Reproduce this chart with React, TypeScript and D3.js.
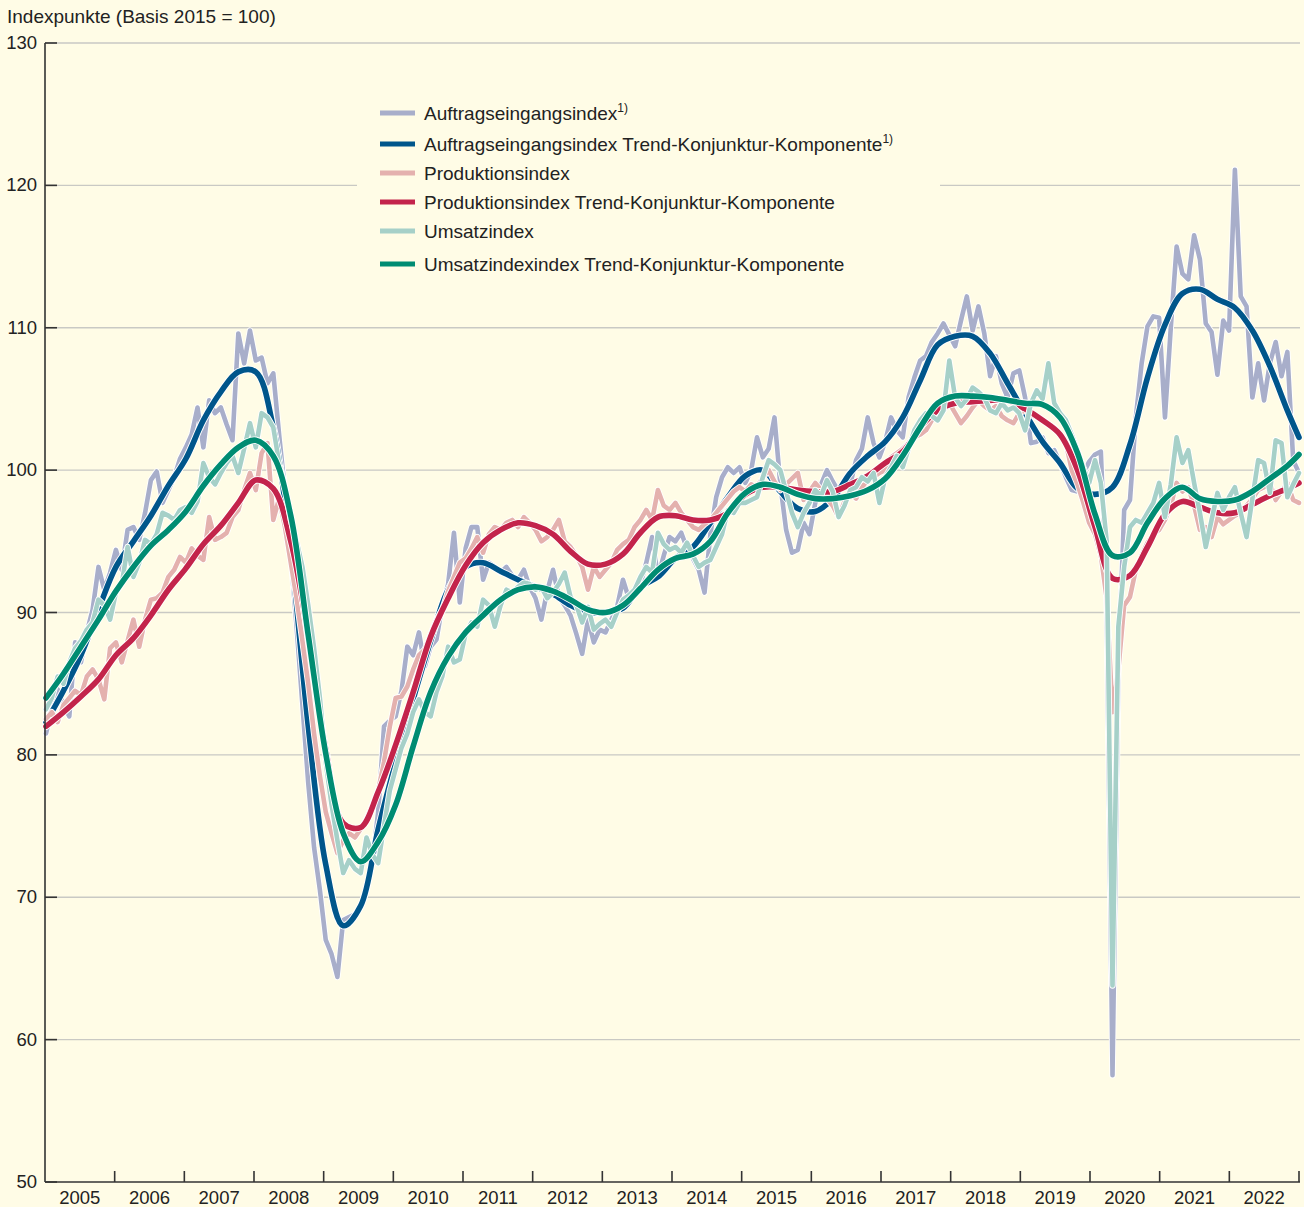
import React from "react";
import * as d3 from "d3";

const WIDTH = 1304;
const HEIGHT = 1207;
const FONT = '"Liberation Sans", Arial, Helvetica, sans-serif';

const yearLabels = [
  "2005", "2006", "2007", "2008", "2009", "2010", "2011", "2012", "2013",
  "2014", "2015", "2016", "2017", "2018", "2019", "2020", "2021", "2022",
];
const yTicks = [50, 60, 70, 80, 90, 100, 110, 120, 130];

// monthly values, Jan 2005 - Dec 2022
const auftragRaw = [
  81.5, 83.2, 84.6, 83.5, 82.7, 87.9, 86.5, 88.6, 90.2, 93.2, 91.6, 92.8,
  94.4, 93.0, 95.8, 96.0, 95.1, 97.0, 99.3, 99.9, 97.7, 98.6, 99.5, 100.8,
  101.6, 102.5, 104.4, 101.6, 104.9, 104.0, 104.4, 103.2, 102.1, 109.6, 107.5, 109.8,
  107.7, 107.9, 106.1, 106.8, 102.5, 98.5, 94.0, 89.0, 83.5, 78.0, 73.5, 70.5,
  67.0, 66.0, 64.4, 68.4, 68.6, 68.8, 69.3, 70.5, 72.5, 76.0, 82.0, 82.4,
  82.7, 84.5, 87.6, 87.0, 88.6, 86.2, 87.6, 88.1, 90.5, 92.0, 95.6, 90.7,
  94.5, 96.0, 96.0, 92.3, 93.5, 93.2, 92.8, 93.2, 92.6, 92.3, 93.0, 91.8,
  91.0, 89.5, 91.5, 93.0, 91.1, 90.5, 89.8, 88.5, 87.1, 89.5, 87.9, 88.8,
  88.6, 89.5, 90.4, 92.3, 91.0, 91.4, 92.0, 93.5, 95.3, 92.5, 94.0, 95.3,
  95.0, 95.6, 94.5, 93.8, 93.0, 91.4, 95.5, 98.1, 99.5, 100.2, 99.8, 100.2,
  99.1, 100.0, 102.3, 100.9, 101.5, 103.7, 99.0, 95.8, 94.2, 94.4, 96.3, 95.5,
  97.7, 99.0, 100.0, 99.2, 98.5, 99.3, 99.0, 100.7, 101.5, 103.7, 101.9, 100.9,
  102.0, 103.7, 102.8, 102.3, 105.1, 106.5, 107.7, 108.0, 109.0, 109.6, 110.3, 109.5,
  108.7, 110.5, 112.2, 109.8, 111.5, 109.6, 106.6, 108.0, 106.1, 105.1, 106.8, 107.0,
  105.1, 101.9, 102.0, 102.3, 101.2, 101.4, 100.5, 99.5, 98.6, 98.5, 99.8, 100.6,
  101.1, 101.3, 91.0, 57.5, 86.0, 97.2, 97.9, 103.7, 107.5, 110.1, 110.8, 110.7,
  103.7, 110.0, 115.7, 113.8, 113.4, 116.5, 114.8, 110.3, 109.7, 106.7, 110.5, 109.8,
  121.1, 112.2, 111.5, 105.1, 107.5, 104.9, 107.5, 109.0, 106.6, 108.3, 100.7, 99.8,
];

const produktionRaw = [
  82.5, 83.0, 82.3, 83.5, 84.0, 84.5, 84.2, 85.5, 86.0, 85.3, 83.9, 87.5,
  87.9, 86.5, 88.0, 89.5, 87.6, 89.5, 90.9, 91.0, 91.4, 92.5, 93.0, 93.9,
  93.5, 94.5, 94.0, 93.7, 96.7, 95.1, 95.3, 95.6, 96.7, 97.2, 98.6, 99.8,
  98.6, 101.2, 101.9, 96.5, 98.0, 96.0, 93.5, 91.0, 88.0, 85.0, 81.5, 78.5,
  76.0, 74.5, 73.1, 74.0, 74.5, 74.2, 74.8, 75.5, 76.5, 77.5, 79.5, 82.0,
  84.0, 84.1, 84.8, 86.0, 87.0, 87.4, 88.5, 89.5, 90.2, 91.5, 92.5, 93.5,
  93.8, 94.5, 95.3, 94.2, 95.5, 96.0, 95.8, 96.3, 96.5, 96.0, 96.7, 96.3,
  95.8, 95.0, 95.3, 95.8, 96.5, 95.0, 94.6, 94.0, 93.2, 91.6, 93.2, 92.5,
  93.0, 93.5, 94.4, 94.8, 95.1, 96.0, 96.5, 97.2, 96.5, 98.6, 97.5, 97.2,
  97.7, 97.0, 96.5, 96.0, 95.8, 96.2, 96.5, 97.0, 97.5, 98.0, 98.5, 98.8,
  98.5, 99.0, 98.8, 99.5, 100.0, 99.2, 98.6, 99.0, 99.4, 99.8, 97.9, 98.5,
  99.1, 98.6, 98.0, 97.5, 96.7, 97.8, 98.4, 98.0, 98.8, 99.3, 99.5, 99.8,
  100.0, 100.9, 101.2, 101.5, 101.9, 102.3, 102.5, 102.8, 103.5, 104.4, 104.2, 104.7,
  104.0, 103.3, 103.8, 104.4, 104.9, 104.5, 104.2, 104.5, 103.8, 103.5, 103.3, 104.0,
  104.2, 103.9, 103.7, 103.5, 103.2, 103.0, 102.5, 101.9, 100.0, 99.0, 97.7, 96.3,
  95.5, 94.0, 91.0, 83.0, 86.0, 90.5, 91.1, 93.0, 94.0, 94.9, 95.5, 95.8,
  96.5, 97.5, 99.1, 98.5, 98.8, 97.5, 95.8, 96.0, 95.3, 96.7, 96.2, 96.5,
  96.8, 97.0, 97.5, 98.0, 98.6, 98.8, 99.1, 97.9, 98.5, 99.1, 97.9, 97.7,
];

const umsatzRaw = [
  83.2, 84.0, 85.5, 85.0, 86.5, 87.5, 88.0, 88.8, 89.3, 90.9, 90.5, 89.5,
  91.4, 92.0, 94.6, 92.5, 93.5, 95.1, 94.8, 95.5, 97.0, 96.8, 96.5, 97.2,
  97.4, 97.0, 97.8, 100.5, 99.5, 99.0, 99.8, 100.5, 101.0, 99.8, 101.5, 103.3,
  101.6, 104.0, 103.7, 103.0, 100.5, 98.8, 96.5, 95.0, 93.2, 90.5, 87.5, 84.0,
  79.5, 76.5, 74.0, 71.7, 72.6, 72.0, 71.7, 74.2, 73.0, 72.4, 75.0, 77.5,
  79.0, 80.5, 81.5, 83.0, 83.9, 83.0, 82.7, 84.4, 85.5, 87.6, 86.5, 86.7,
  88.5, 89.3, 89.0, 90.9, 90.5, 89.0, 90.5, 91.6, 91.4, 91.8, 92.1, 92.0,
  91.6, 91.8, 91.0, 91.4, 92.0, 92.8, 91.1, 90.5, 89.3, 90.4, 88.8, 89.2,
  89.5, 89.0, 90.0, 90.9, 91.2, 91.6, 92.5, 93.2, 92.8, 95.6, 94.8, 94.4,
  94.6, 94.2, 94.9, 94.0, 93.2, 93.5, 93.7, 94.6, 95.5, 97.2, 97.0, 97.7,
  97.7, 97.9, 98.1, 99.5, 100.7, 100.4, 100.0, 98.5, 97.0, 96.0, 97.0, 97.7,
  98.6, 98.2, 99.3, 98.5, 96.7, 97.5, 98.6, 98.8, 99.5, 99.2, 99.8, 97.7,
  99.5, 100.2, 101.0, 100.2, 101.5, 102.8, 103.5, 104.0, 103.8, 103.5, 104.2, 107.7,
  105.1, 104.5, 105.0, 105.8, 105.5, 105.1, 104.2, 104.0, 104.7, 104.2, 104.4, 104.0,
  102.8, 104.7, 105.6, 105.0, 107.5, 104.7, 104.0, 103.5, 102.5, 101.4, 100.2, 99.1,
  100.7, 99.1, 95.0, 63.8, 89.0, 93.2, 96.0, 96.5, 96.3, 97.0, 97.7, 99.1,
  96.7, 99.0, 102.3, 100.5, 101.4, 99.1, 97.0, 94.6, 96.5, 98.4, 97.2, 98.1,
  98.8, 97.0, 95.3, 98.0, 100.7, 100.5, 98.4, 102.1, 101.9, 98.1, 99.0, 99.8,
];

// trend-cycle components, one value per quarter (month 0, 3, ... 213) plus Dec 2022
const trendMonths = [...d3.range(0, 216, 3), 215];

const auftragTrend = [
  82.3, 84.5, 87.0, 90.2, 93.2, 95.0, 96.8, 98.9, 100.8, 103.5, 105.5, 106.9,
  106.9, 103.0, 94.4, 82.0, 72.3, 68.0, 69.4, 74.8, 79.5, 83.9, 88.0, 91.6,
  93.2, 93.5, 92.9, 92.3, 91.8, 91.3, 90.5, 90.0, 90.0, 90.3, 91.8, 92.5,
  93.8, 94.6, 96.3, 98.1, 99.6, 100.0, 98.5, 97.3, 97.1, 98.0, 99.8, 101.0,
  102.0, 103.7, 106.3, 108.8, 109.4, 109.4, 108.2, 106.1, 104.0, 102.0, 100.5, 98.7,
  98.3, 98.8, 101.8, 106.5, 110.2, 112.4, 112.7, 112.0, 111.4, 109.8, 107.3, 104.2,
  102.3,
];

const produktionTrend = [
  82.0, 83.0, 84.1, 85.3, 87.0, 88.2, 89.8, 91.6, 93.1, 94.8, 96.1, 97.7,
  99.3, 98.7, 95.0, 88.4, 80.4, 75.2, 74.9, 77.4, 80.7, 84.4, 88.3, 91.0,
  93.3, 94.9, 95.8, 96.3, 96.1, 95.5, 94.3, 93.4, 93.4, 94.1, 95.6, 96.7,
  96.8, 96.5, 96.5, 97.0, 98.3, 98.8, 98.8, 98.6, 98.5, 98.5, 99.0, 99.6,
  100.5, 101.3, 103.0, 104.2, 104.7, 104.8, 104.9, 104.9, 104.3, 103.5, 102.5, 100.0,
  96.0, 92.4, 92.6, 94.6, 96.9, 97.8, 97.4, 97.0, 97.0, 97.6, 98.2, 98.7,
  99.1,
];

const umsatzTrend = [
  84.0, 85.7, 87.6, 89.5, 91.5, 93.2, 94.7, 95.8, 97.1, 98.9, 100.4, 101.6,
  102.1, 101.0, 96.8, 88.4, 80.1, 74.5, 72.5, 73.9, 76.5, 80.6, 84.4, 86.9,
  88.6, 89.8, 90.9, 91.6, 91.8, 91.5, 90.9, 90.2, 90.0, 90.5, 91.7, 93.0,
  93.8, 94.1, 95.0, 97.0, 98.4, 99.0, 98.8, 98.3, 98.0, 98.0, 98.2, 98.6,
  99.4, 101.0, 103.0, 104.7, 105.2, 105.2, 105.1, 104.9, 104.7, 104.6, 103.7, 101.2,
  96.9, 94.0, 94.2, 96.3, 98.0, 98.8, 98.0, 97.8, 97.9, 98.5, 99.4, 100.3,
  101.1,
];

const legendItems = [
  { label: "Auftragseingangsindex", note: true, color: "#a8aeca" },
  { label: "Auftragseingangsindex Trend-Konjunktur-Komponente", note: true, color: "#00568b" },
  { label: "Produktionsindex", note: false, color: "#e4b1ae" },
  { label: "Produktionsindex Trend-Konjunktur-Komponente", note: false, color: "#c3244b" },
  { label: "Umsatzindex", note: false, color: "#a6d0c8" },
  { label: "Umsatzindexindex Trend-Konjunktur-Komponente", note: false, color: "#008c72" },
];
const legendRows = [113, 144, 173, 202, 231, 264];

const BG = "#fffce6";

export default function App() {
  const x = d3.scaleLinear().domain([0, 215]).range([46, 1299]);
  const y = d3.scaleLinear().domain([50, 130]).range([1182, 43]);
  const xYear = d3.scaleLinear().domain([0, yearLabels.length]).range([45, 1299]);

  const rawLine = d3
    .line<number>()
    .x((_d, i) => x(i))
    .y((d) => y(d));

  const trendLine = d3
    .line<number>()
    .x((_d, i) => x(trendMonths[i]))
    .y((d) => y(d))
    .curve(d3.curveCatmullRom.alpha(0.5));

  // drawing order: each raw series, then its trend
  const series = [
    { path: rawLine(auftragRaw), color: legendItems[0].color, width: 4.6 },
    { path: trendLine(auftragTrend), color: legendItems[1].color, width: 5.6 },
    { path: rawLine(produktionRaw), color: legendItems[2].color, width: 4.6 },
    { path: trendLine(produktionTrend), color: legendItems[3].color, width: 5.6 },
    { path: rawLine(umsatzRaw), color: legendItems[4].color, width: 4.6 },
    { path: trendLine(umsatzTrend), color: legendItems[5].color, width: 5.6 },
  ];

  const left = 45;
  const right = 1300;
  const bottom = y(50);

  return (
    <svg
      width={WIDTH}
      height={HEIGHT}
      style={{ position: "absolute", left: 0, top: 0, display: "block" }}
      fontFamily={FONT}
    >
      <rect x={0} y={0} width={WIDTH} height={HEIGHT} fill={BG} />

      <text x={7} y={23} fontSize={19} fill="#222">
        Indexpunkte (Basis 2015 = 100)
      </text>

      {/* grid lines */}
      {yTicks.filter((t) => t > 50).map((t) => (
        <line key={"g" + t} x1={left} x2={right} y1={y(t)} y2={y(t)} stroke="#c9c9c4" strokeWidth={1.4} />
      ))}

      {/* legend box hides the grid */}
      <rect x={357} y={92} width={583} height={192} fill={BG} />

      {/* series */}
      {series.map((s, i) => (
        <g key={"s" + i}>
          <path d={s.path || ""} fill="none" stroke="#ffffff" strokeWidth={s.width + 1.8}
            strokeLinejoin="round" strokeLinecap="round" />
          <path d={s.path || ""} fill="none" stroke={s.color} strokeWidth={s.width}
            strokeLinejoin="round" strokeLinecap="round" />
        </g>
      ))}

      {/* y axis */}
      <line x1={left} x2={left} y1={y(130)} y2={bottom} stroke="#333" strokeWidth={1.6} />
      {yTicks.map((t) => (
        <g key={"y" + t}>
          <line x1={left} x2={left + 12} y1={y(t)} y2={y(t)} stroke="#333" strokeWidth={1.6} />
          <text x={37} y={y(t) + 6} fontSize={18.5} fill="#222" textAnchor="end">
            {t}
          </text>
        </g>
      ))}

      {/* x axis */}
      <line x1={left} x2={right} y1={bottom} y2={bottom} stroke="#333" strokeWidth={1.6} />
      {d3.range(1, yearLabels.length + 1).map((k) => (
        <line key={"xt" + k} x1={xYear(k)} x2={xYear(k)} y1={bottom} y2={bottom - 11} stroke="#333" strokeWidth={1.6} />
      ))}
      {yearLabels.map((lab, k) => (
        <text key={"xl" + k} x={(xYear(k) + xYear(k + 1)) / 2} y={1204} fontSize={18.5} fill="#222" textAnchor="middle">
          {lab}
        </text>
      ))}

      {/* legend */}
      {legendItems.map((it, i) => (
        <g key={"l" + i}>
          <line x1={380} x2={415} y1={legendRows[i]} y2={legendRows[i]} stroke={it.color} strokeWidth={5} />
          <text x={424} y={legendRows[i] + 6.5} fontSize={19} fill="#222">
            {it.label}
            {it.note && (
              <tspan fontSize={12} dy={-8}>
                1)
              </tspan>
            )}
          </text>
        </g>
      ))}
    </svg>
  );
}
